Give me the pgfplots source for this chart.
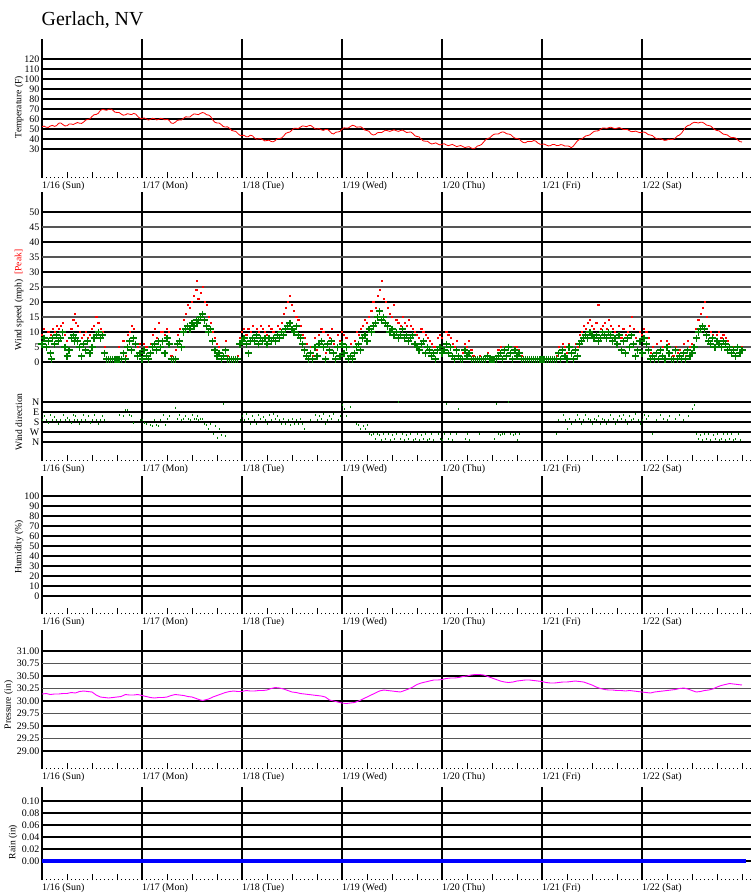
\documentclass[border=0pt]{standalone}
\usepackage{pgfplots}
\usepackage{pgfplotstable}
\pgfplotsset{compat=1.18}
\usepackage{fontspec}
\setmainfont{Liberation Serif}
\definecolor{dkgreen}{RGB}{0,128,0}
\definecolor{mag}{RGB}{255,0,255}
\definecolor{midgray}{RGB}{85,85,85}

\pgfplotstableread{
t v
0 52.3
0.5 52.9
1 51.8
1.5 51.6
2 53.0
2.5 53.6
3 52.6
3.5 53.4
4 55.8
4.5 56.0
5 54.5
5.5 53.1
6 53.2
6.5 54.9
7 55.0
7.5 54.5
8 55.5
8.5 56.5
9 55.8
9.5 55.6
10 57.0
10.5 59.0
11 59.5
11.5 60.2
12 62.5
12.5 64.3
13 64.5
13.5 65.7
14 68.5
14.5 69.6
15 69.2
15.5 68.7
16 69.7
16.5 70.0
17 68.8
17.5 66.9
18 66.5
18.5 66.5
19 65.0
19.5 63.8
20 64.2
20.5 65.3
21 64.8
21.5 64.4
22 65.6
22.5 64.9
23 62.5
23.5 60.7
24 60.5
24.5 61.1
25 60.2
25.5 59.0
26 59.5
26.5 60.7
27 60.3
27.5 59.1
28 59.6
28.5 60.7
29 60.2
29.5 59.2
30 59.8
30.5 58.7
31 56.0
31.5 55.6
32 56.8
32.5 58.7
33 59.0
33.5 59.1
34 60.8
34.5 62.2
35 62.0
35.5 62.1
36 63.8
36.5 65.1
37 64.8
37.5 64.4
38 65.5
38.5 66.5
39 65.9
39.5 64.2
40 64.0
40.5 62.3
41 59.0
41.5 56.7
42 56.0
42.5 56.0
43 54.5
43.5 52.5
44 52.0
44.5 52.2
45 50.7
45.5 48.6
46 48.0
46.5 47.6
47 45.5
47.5 43.7
48 43.5
48.5 43.7
49 42.3
49.5 42.3
50 43.8
50.5 43.2
51 41.0
51.5 39.8
52 40.2
52.5 40.5
53 39.2
53.5 38.1
54 38.5
54.5 38.8
55 37.5
55.5 37.2
56 38.5
56.5 40.3
57 40.5
57.5 41.0
58 43.0
58.5 45.6
59 46.5
59.5 47.0
60 49.0
60.5 50.7
61 50.7
61.5 50.5
62 51.8
62.5 53.1
63 52.8
63.5 52.3
64 53.3
64.5 53.5
65 52.0
65.5 50.2
66 50.0
66.5 50.4
67 49.2
67.5 48.6
68 49.5
68.5 49.6
69 48.0
69.5 45.7
70 45.0
70.5 46.8
71 47.0
71.5 47.6
72 49.7
72.5 51.2
73 51.0
73.5 51.0
74 52.5
74.5 53.7
75 53.2
75.5 51.8
76 52.0
76.5 52.2
77 50.8
77.5 48.9
78 48.5
78.5 47.6
79 45.0
79.5 44.0
80 44.5
80.5 46.3
81 46.5
81.5 46.4
82 47.8
82.5 48.8
83 48.2
83.5 47.6
84 48.5
84.5 49.2
85 48.3
85.5 47.6
86 48.4
86.5 48.9
87 47.8
87.5 46.5
88 46.8
88.5 47.0
89 45.5
89.5 43.2
90 42.5
90.5 42.1
91 40.0
91.5 38.1
92 37.8
92.5 37.8
93 36.2
93.5 35.0
94 35.5
94.5 36.1
95 35.0
95.5 34.0
96 34.7
96.5 35.3
97 34.2
97.5 33.3
98 34.0
98.5 34.6
99 33.5
99.5 32.4
100 33.0
100.5 33.5
101 32.5
101.5 31.4
102 32.0
102.5 32.3
103 31.0
103.5 30.2
104 31.0
104.5 33.0
105 33.5
105.5 34.6
106 37.0
106.5 39.4
107 40.5
107.5 41.3
108 43.3
108.5 44.8
109 45.0
109.5 45.0
110 46.3
110.5 47.1
111 46.7
111.5 45.2
112 45.0
112.5 44.3
113 42.3
113.5 40.8
114 40.5
114.5 39.9
115 38.0
115.5 36.5
116 36.2
116.5 37.5
117 37.5
117.5 37.4
118 38.5
118.5 37.9
119 36.0
119.5 34.8
120 34.7
120.5 35.0
121 34.0
121.5 33.1
122 33.3
122.5 34.5
123 34.5
123.5 33.4
124 33.5
124.5 34.4
125 34.0
125.5 32.9
126 33.0
126.5 32.8
127 31.3
127.5 32.8
128 35.5
128.5 38.1
129 39.5
129.5 39.9
130 41.5
130.5 43.1
131 43.5
131.5 44.2
132 46.0
132.5 47.6
133 48.0
133.5 48.2
134 49.5
134.5 50.9
135 51.0
135.5 50.6
136 51.3
136.5 51.8
137 51.0
137.5 50.3
138 50.8
138.5 51.4
139 50.7
139.5 49.5
140 49.5
140.5 49.5
141 48.2
141.5 47.3
142 47.5
142.5 47.9
143 47.0
143.5 46.3
144 46.7
144.5 47.0
145 46.0
145.5 44.4
146 44.0
146.5 43.4
147 41.5
147.5 40.2
148 40.0
148.5 40.3
149 39.3
149.5 38.6
150 39.0
150.5 39.9
151 39.5
151.5 39.7
152 41.0
152.5 43.1
153 44.0
153.5 45.9
154 49.0
154.5 51.9
155 53.5
155.5 54.0
156 55.7
156.5 56.7
157 56.5
157.5 56.0
158 56.7
158.5 56.7
159 55.5
159.5 53.9
160 53.5
160.5 52.9
161 51.0
161.5 49.2
162 48.5
162.5 48.1
163 46.5
163.5 44.9
164 44.5
164.5 44.0
165 42.3
165.5 41.3
166 41.5
166.5 40.9
167 39.0
167.5 37.4
168 37.0
}\temp

\pgfplotstableread{
t v
0 30.14
1 30.15
2 30.13
3 30.14
4 30.14
5 30.15
6 30.15
7 30.17
8 30.16
9 30.19
10 30.20
11 30.19
12 30.18
13 30.12
14 30.08
15 30.07
16 30.06
17 30.07
18 30.08
19 30.09
20 30.13
21 30.12
22 30.12
23 30.13
24 30.11
25 30.09
26 30.07
27 30.06
28 30.07
29 30.07
30 30.08
31 30.11
32 30.13
33 30.12
34 30.11
35 30.09
36 30.08
37 30.05
38 30.02
38.6 30.01
40 30.04
41 30.08
42 30.11
43 30.14
44 30.17
45 30.19
46 30.20
47 30.19
48 30.19
49 30.21
50 30.20
51 30.20
52 30.21
53 30.21
54 30.22
55 30.25
56 30.27
57 30.26
58 30.24
59 30.21
60 30.18
61 30.17
62 30.15
63 30.14
64 30.13
65 30.12
66 30.11
67 30.10
68 30.08
69 30.02
70 30.00
71 29.98
72 29.96
73 29.95
74 29.96
75 29.97
76 30.00
77 30.04
78 30.08
79 30.12
80 30.16
81 30.20
82 30.22
83 30.21
84 30.20
85 30.19
86 30.18
87 30.21
88 30.24
89 30.28
90 30.33
91 30.36
92 30.38
93 30.40
94 30.42
95 30.42
96 30.43
97 30.45
98 30.46
99 30.46
100 30.47
101 30.49
102 30.50
103 30.52
104 30.53
105 30.53
106 30.52
107 30.49
108 30.46
109 30.43
110 30.40
111 30.38
112 30.37
113 30.38
114 30.40
115 30.41
116 30.42
117 30.42
118 30.41
119 30.40
120 30.39
121 30.37
122 30.36
123 30.36
124 30.37
125 30.38
126 30.38
127 30.39
128 30.40
129 30.39
130 30.38
131 30.35
132 30.32
133 30.28
134 30.25
135 30.23
136 30.22
137 30.22
138 30.21
139 30.21
140 30.20
141 30.21
142 30.20
143 30.19
144 30.18
145 30.17
146 30.16
147 30.18
148 30.19
149 30.20
150 30.21
151 30.22
152 30.23
153 30.25
154 30.26
155 30.24
156 30.21
157 30.18
158 30.19
159 30.21
160 30.22
161 30.24
162 30.28
163 30.31
164 30.33
165 30.35
166 30.34
167 30.33
168 30.32
}\pres

\pgfplotstableread{
t s g d
0.0 6 9 160
0.5 8 11 130
1.0 5 8 165
1.5 7 10 185
2.0 3 9 115
2.3 1 6 nan
2.5 8 11 160
3.0 6 10 135
3.5 9 12 165
4.0 7 11 200
4.5 8 12 160
5.0 10 13 115
5.5 5 9 165
6.0 2 7 140
6.5 4 8 160
7.0 8 11 185
7.5 9 14 115
7.8 7 16 165
8.0 8 13 130
8.5 7 12 160
9.0 5 10 200
9.5 2 8 165
10.0 6 9 115
10.5 4 10 160
11.0 7 8 130
11.5 3 9 185
12.0 5 11 165
12.5 8 12 115
13.0 9 15 160
13.5 10 13 200
14.0 8 11 165
14.5 9 10 130
15.0 3 5 160
15.5 1 1 nan
16.0 1 1 nan
16.5 1 1 nan
17.0 1 1 nan
17.5 1 1 nan
18.0 1 1 nan
18.5 1 5 115
19.0 1 1 nan
19.5 3 7 125
20.0 1 2 72
20.5 5 9 70
21.0 7 10 115
21.5 4 12 130
22.0 8 11 186
22.5 6 8 nan
23.0 2 5 nan
23.5 3 6 160
24.0 1 3 165
24.5 4 6 185
25.0 2 5 200
25.5 1 3 nan
26.0 3 6 210
26.5 5 9 220
27.0 6 11 160
27.5 4 8 205
28.0 7 13 215
28.5 5 10 160
29.0 7 10 115
29.5 3 9 210
30.0 8 11 155
30.5 6 10 125
31.0 1 2 nan
31.5 1 1 nan
32.0 1 4 50
32.5 6 9 155
33.0 7 11 120
33.5 5 10 160
34.0 10 14 150
34.5 11 16 125
35.0 12 19 155
35.5 11 18 160
36.0 13 20 115
36.5 12 22 150
37.0 14 24 155
37.2 13 27 125
37.5 14 21 160
38.0 15 23 150
38.5 16 25 155
39.0 14 20 200
39.5 12 19 210
40.0 10 15 245
40.5 11 13 200
41.0 7 10 290
41.5 4 8 215
42.0 2 6 320
42.5 3 5 245
43.0 1 3 300
43.5 2 4 20
44.0 4 7 305
44.5 1 2 nan
45.0 1 1 nan
45.5 1 1 nan
46.0 1 1 nan
46.5 1 1 nan
47.0 1 2 nan
47.5 6 8 160
48.0 7 10 130
48.5 8 11 160
49.0 6 9 110
49.5 3 11 155
50.0 7 10 200
50.5 8 12 130
51.0 7 9 160
51.5 9 11 200
52.0 6 10 115
52.5 8 12 155
53.0 7 11 135
53.5 8 10 160
54.0 6 9 200
54.5 8 12 120
55.0 7 11 160
55.5 8 10 110
56.0 7 9 155
56.5 9 12 130
57.0 8 11 160
57.5 10 13 200
58.0 9 16 155
58.5 11 18 200
59.0 12 20 160
59.5 13 22 205
60.0 11 19 155
60.5 10 17 200
61.0 12 15 160
61.5 9 14 195
62.0 8 12 155
62.5 6 9 200
63.0 4 8 245
63.5 2 6 nan
64.0 1 3 nan
64.5 3 5 160
65.0 1 2 nan
65.5 5 8 115
66.0 2 4 160
66.5 6 9 130
67.0 7 11 155
67.5 5 10 110
68.0 1 3 200
68.5 6 9 160
69.0 4 8 125
69.5 7 11 155
70.0 3 6 110
70.5 1 3 nan
71.0 5 9 160
71.5 2 7 125
72.0 6 10 30
72.5 3 9 65
73.0 5 8 130
73.5 1 5 nan
74.0 2 6 45
74.5 1 3 nan
75.0 3 7 nan
75.5 5 10 200
76.0 6 9 210
76.5 4 11 245
77.0 8 12 215
77.5 9 14 240
78.0 7 13 205
78.5 11 15 290
79.0 10 17 300
79.5 12 20 290
80.0 13 18 335
80.5 15 22 290
81.0 17 24 295
81.5 14 27 340
82.0 15 21 290
82.5 13 20 335
83.0 12 18 290
83.5 10 16 340
84.0 11 15 295
84.5 9 19 335
85.0 10 14 290
85.5 8 13 0
86.0 9 12 335
86.5 11 15 290
87.0 8 13 340
87.5 9 12 295
88.0 7 14 335
88.5 8 12 290
89.0 9 11 340
89.5 6 10 335
90.0 5 9 290
90.5 4 8 340
91.0 6 11 295
91.5 7 10 335
92.0 3 9 290
92.5 5 8 340
93.0 4 7 335
93.5 2 6 290
94.0 3 5 340
94.5 1 5 nan
95.0 4 8 290
95.5 5 9 335
96.0 3 8 340
96.5 4 6 290
97.0 6 10 20
97.5 3 9 335
98.0 5 8 290
98.5 2 6 340
99.0 1 5 nan
99.5 4 7 290
100.0 2 4 65
100.5 1 2 nan
101.0 1 3 nan
101.5 4 6 335
102.0 2 5 290
102.5 3 7 340
103.0 1 4 nan
103.5 1 2 nan
104.0 1 1 nan
104.5 1 1 nan
105.0 1 2 290
105.5 1 1 nan
106.0 1 1 nan
106.5 1 1 nan
107.0 2 3 nan
107.5 1 1 nan
108.0 1 1 nan
108.5 1 1 335
109.0 1 2 20
109.5 2 4 290
110.0 3 5 295
110.5 1 4 290
111.0 4 5 290
111.5 2 5 nan
112.0 5 5 0
112.5 3 5 290
113.0 1 4 295
113.5 4 5 290
114.0 2 5 340
114.5 3 4 290
115.0 1 2 nan
115.5 1 1 nan
116.0 1 1 nan
116.5 1 1 nan
117.0 1 1 nan
117.5 1 1 nan
118.0 1 1 nan
118.5 1 1 nan
119.0 1 1 nan
119.5 1 1 nan
120.0 1 1 nan
120.5 1 1 nan
121.0 1 1 nan
121.5 1 1 nan
122.0 1 1 nan
122.5 1 1 nan
123.0 1 1 nan
123.5 1 2 290
124.0 3 5 160
124.5 1 4 nan
125.0 4 6 115
125.5 2 5 160
126.0 1 3 245
126.5 5 6 155
127.0 3 5 200
127.5 1 4 nan
128.0 4 6 160
128.5 2 5 120
129.0 6 9 155
129.5 7 10 200
130.0 8 12 160
130.5 9 11 115
131.0 8 13 155
131.5 10 14 160
132.0 9 12 200
132.5 8 11 155
133.0 9 13 160
133.5 7 19 130
134.0 8 11 200
134.5 10 12 155
135.0 9 13 160
135.5 8 11 200
136.0 10 14 160
136.5 9 12 115
137.0 7 11 155
137.5 8 10 200
138.0 6 9 160
138.5 9 12 130
139.0 4 8 155
139.5 7 11 115
140.0 3 9 160
140.5 8 10 200
141.0 5 12 130
141.5 9 15 160
142.0 6 11 155
142.5 2 8 110
143.0 4 7 160
143.5 7 10 200
144.0 3 9 160
144.5 8 11 115
145.0 6 10 155
145.5 4 8 130
146.0 1 3 nan
146.5 2 5 290
147.0 1 2 nan
147.5 3 6 160
148.0 1 4 nan
148.5 4 7 115
149.0 2 5 155
149.5 1 2 nan
150.0 5 7 160
150.5 3 6 130
151.0 1 3 nan
151.5 1 2 nan
152.0 4 5 155
152.5 1 3 nan
153.0 2 4 115
153.5 1 2 nan
154.0 3 6 160
154.5 1 2 nan
155.0 4 7 130
155.5 2 5 nan
156.0 3 6 65
156.5 5 8 30
157.0 8 11 290
157.5 10 14 335
158.0 11 16 295
158.5 12 18 340
159.0 11 20 290
159.5 9 15 335
160.0 7 12 290
160.5 6 10 340
161.0 8 9 295
161.5 5 8 335
162.0 7 9 290
162.5 6 10 340
163.0 5 8 335
163.5 7 9 290
164.0 6 8 340
164.5 4 7 290
165.0 5 5 335
165.5 3 5 290
166.0 4 5 340
166.5 2 4 335
167.0 5 5 290
167.5 3 4 340
168.0 4 5 nan
}\wind

\pgfplotsset{
  panel/.style={
    scale only axis, width=709bp, xmin=0, xmax=170.16,
    axis x line*=bottom, axis y line*=left, axis line style={draw=none},
    xtick={0,24,...,144},
    xticklabels={1/16 (Sun),1/17 (Mon),1/18 (Tue),1/19 (Wed),1/20 (Thu),1/21 (Fri),1/22 (Sat)},
    minor xtick={0,1,...,170},
    extra x ticks={6,12,18,30,36,42,54,60,66,78,84,90,102,108,114,126,132,138,150,156,162,168},
    extra x tick labels={},
    extra x tick style={xmajorgrids=false, major tick length=6bp},
    xtick align=inside, ytick align=inside,
    major tick length=0pt, minor tick length=1.5bp,
    xtick pos=left, ytick pos=left,
    xmajorgrids=true, ymajorgrids=true,
    major grid style={black, line width=1.5bp},
    tick style={black, line width=0.8bp},
    tick label style={font=\fontsize{10}{10}\selectfont},
    xticklabel style={anchor=north west, inner sep=0pt, yshift=-3bp},
    yticklabel style={anchor=east, inner sep=0pt, xshift=-2.5bp},
    /pgf/number format/assume math mode=true,
  },
  glines/.style={midgray, line width=1.7bp, forget plot},
}

\begin{document}
\begin{tikzpicture}
\path[use as bounding box] (0,0) rectangle (751bp,-895bp);
\node[anchor=base west, inner sep=0pt, font=\fontsize{20}{20}\selectfont] at (41.5bp,-25bp) {Gerlach, NV};

% Temperature
\begin{axis}[panel, at={(42bp,-178bp)}, anchor=south west, height=139bp,
  ymin=1, ymax=140, ytick={30,40,...,120},
  yticklabels={30,40,50,60,70,80,90,100,110,120}]
\addplot[red, line width=0.8bp] table[x=t,y=v]{\temp};
\end{axis}

% Wind
\begin{axis}[panel, at={(42bp,-461bp)}, anchor=south west, height=269bp,
  ymin=-33, ymax=56.67,
  ytick={-26.667,-23.333,-20,-16.667,-13.333,0,5,10,15,20,25,30,35,40,45,50},
  yticklabels={N,W,S,E,N,0,5,10,15,20,25,30,35,40,45,50}]
\pgfplotsinvokeforeach{5,15,25,35,45}{
  \addplot[glines] coordinates {(0,#1) (170.16,#1)};
}
\addplot[only marks, mark=square*, mark size=0.6bp, color=red, mark options={draw=none, fill=red}] table[x=t,y=g]{\wind};
\addplot[only marks, mark=+, mark size=3.5bp, color=dkgreen, mark options={line width=1.2bp}] table[x=t,y=s]{\wind};
\addplot[only marks, mark=|, mark size=1bp, color=dkgreen, mark options={line width=0.6bp}] table[x=t,y expr={-13.333-\thisrow{d}/27}]{\wind};
\end{axis}

% Humidity
\begin{axis}[panel, at={(42bp,-614bp)}, anchor=south west, height=138bp,
  ymin=-18, ymax=120, ytick={0,10,...,100},
  yticklabels={0,10,20,30,40,50,60,70,80,90,100}]
\addplot[draw=none] coordinates {(0,0) (168,0)};
\end{axis}

% Pressure
\begin{axis}[panel, at={(42bp,-769bp)}, anchor=south west, height=139bp,
  ymin=28.64, ymax=31.42, ytick={29,29.25,29.5,29.75,30,30.25,30.5,30.75,31},
  yticklabels={29.00,29.25,29.50,29.75,30.00,30.25,30.50,30.75,31.00}]
\pgfplotsinvokeforeach{29.25,29.75,30.25,30.75}{
  \addplot[glines] coordinates {(0,#1) (170.16,#1)};
}
\addplot[mag, line width=0.9bp] table[x=t,y=v]{\pres};
\end{axis}

% Rain
\begin{axis}[panel, at={(42bp,-880bp)}, anchor=south west, height=93bp,
  ymin=-0.0317, ymax=0.1233, ytick={0,0.02,0.04,0.06,0.08,0.1},
  yticklabels={0.00,0.02,0.04,0.06,0.08,0.10}]
\addplot[blue, line width=4.5bp] coordinates {(0,0) (169,0)};
\end{axis}

\begin{scope}[every node/.style={rotate=90, font=\fontsize{9.6}{10}\selectfont, inner sep=0pt}]
\node at (19bp,-107bp) {Temperature (F)};
\node at (19bp,-300bp) {Wind speed (mph)\ \ \textcolor{red}{[Peak]}};
\node at (19bp,-422bp) {Wind direction};
\node at (19bp,-547bp) {Humidity (\%)};
\node at (8.5bp,-705bp) {Pressure (in)};
\node at (13bp,-842bp) {Rain (in)};
\end{scope}
\end{tikzpicture}
\end{document}
